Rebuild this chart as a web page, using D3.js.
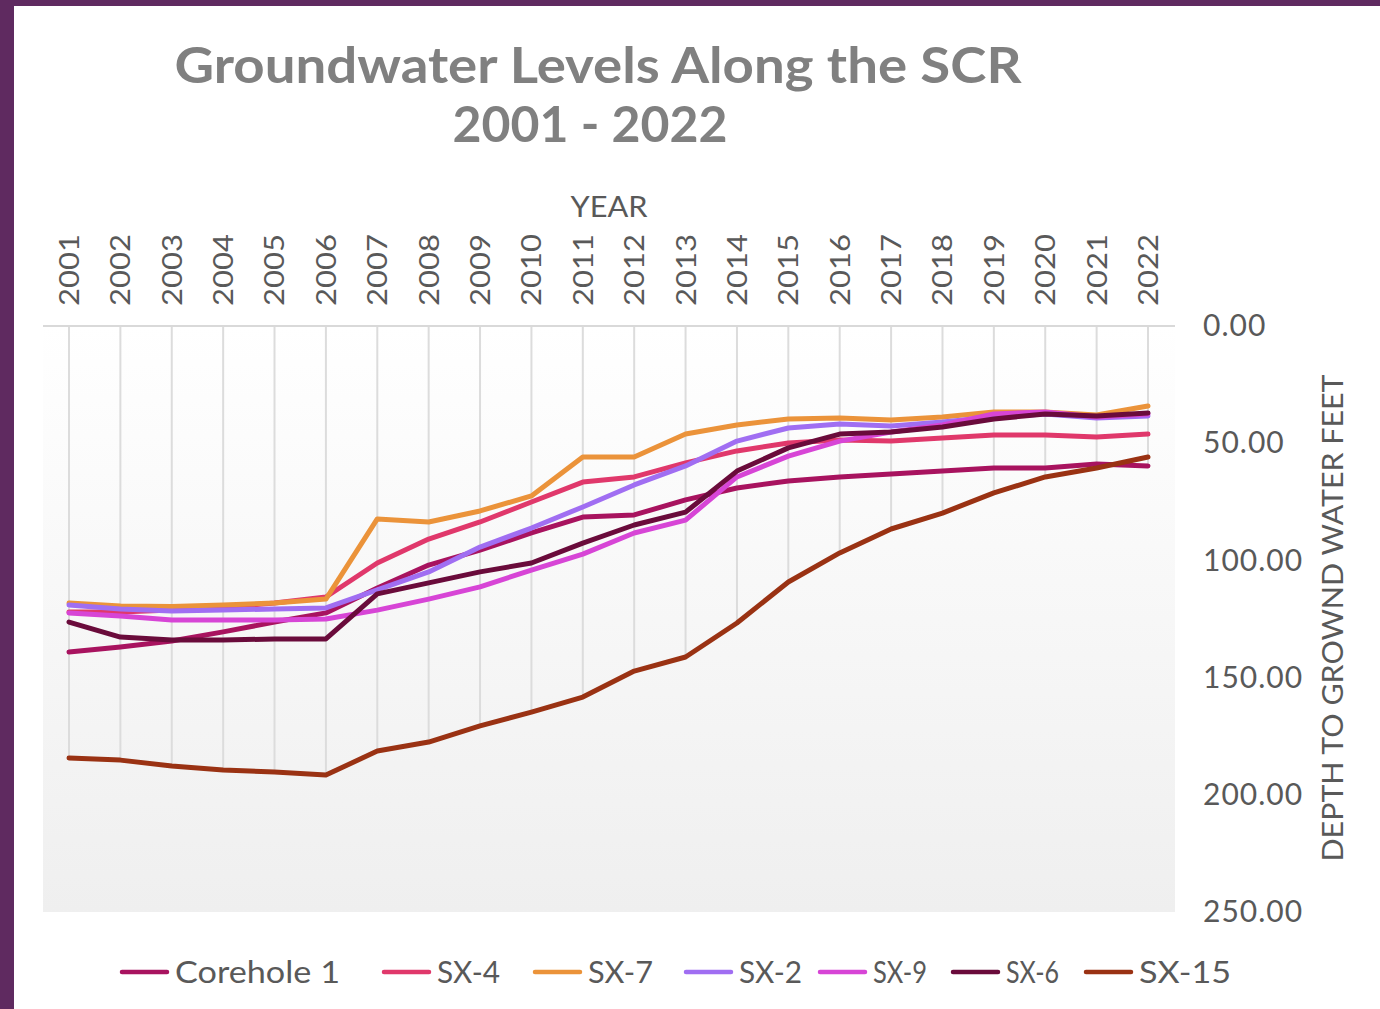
<!DOCTYPE html>
<html>
<head>
<meta charset="utf-8">
<script src="https://cdn.jsdelivr.net/npm/d3@7/dist/d3.min.js"></script>
<style>
  body { margin: 0; background: #fff; }
  svg { display: block; }
  text { font-family: "Lato", "Open Sans", sans-serif; }
</style>
</head>
<body>
<div id="chart"></div>
<script>
// years along the top axis
const years = [2001, 2002, 2003, 2004, 2005, 2006, 2007, 2008, 2009, 2010, 2011,
               2012, 2013, 2014, 2015, 2016, 2017, 2018, 2019, 2020, 2021, 2022];

// depth to groundwater (feet)
const corehole1 = [139.1, 136.9, 134.4, 130.5, 126.3, 122.4, 111.8, 102.0, 95.6, 88.3, 81.5,
                   80.6, 74.2, 69.1, 66.1, 64.4, 63.1, 61.9, 60.6, 60.6, 58.9, 59.7];
const sx4 = [122.0, 122.0, 121.2, 119.9, 118.2, 115.6, 101.1, 90.9, 83.6, 75.1, 66.6,
             64.4, 58.4, 53.3, 49.9, 48.6, 49.1, 47.8, 46.5, 46.5, 47.4, 46.1];
const sx7 = [118.2, 119.5, 119.7, 119.0, 118.2, 116.5, 82.3, 83.6, 78.9, 72.5, 55.9,
             55.9, 46.1, 42.2, 39.7, 39.2, 40.1, 38.8, 36.7, 36.7, 38.0, 34.1];
const sx2 = [119.0, 120.7, 121.6, 121.2, 120.7, 120.3, 112.6, 104.9, 94.3, 86.2, 77.2,
             67.8, 59.7, 49.1, 43.5, 41.8, 42.7, 41.0, 38.8, 37.5, 39.2, 38.4];
const sx9 = [122.4, 123.7, 125.4, 125.4, 125.4, 125.0, 121.2, 116.5, 111.3, 104.1, 97.3,
             88.3, 82.8, 64.4, 55.5, 49.1, 45.2, 42.2, 37.5, 36.7, 38.8, 37.5];
const sx6 = [126.3, 132.7, 134.0, 134.0, 133.5, 133.5, 114.3, 109.6, 104.9, 101.1, 92.6,
             84.9, 79.4, 61.9, 52.0, 46.1, 45.2, 43.1, 39.7, 37.5, 38.4, 37.1];
const sx15 = [184.3, 185.2, 187.7, 189.4, 190.3, 191.6, 181.3, 177.5, 170.6, 164.7, 158.3,
              147.2, 141.2, 126.7, 109.2, 96.8, 86.6, 79.8, 71.2, 64.4, 60.6, 55.9];

const seriesNames = ["Corehole 1", "SX-4", "SX-7", "SX-2", "SX-9", "SX-6", "SX-15"];
const seriesValues = [corehole1, sx4, sx7, sx2, sx9, sx6, sx15];
const seriesColors = ["#a8135f", "#e0386b", "#eb933a", "#a06ef2", "#d745d6", "#6a0b3b", "#9a3213"];

const yTicks = [0, 50, 100, 150, 200, 250];

const W = 1380, H = 1009;
const svg = d3.select("#chart").append("svg")
    .attr("width", W)
    .attr("height", H);

// purple frame at top and left
svg.append("rect").attr("x", 0).attr("y", 0).attr("width", W).attr("height", H).attr("fill", "#fff");
svg.append("rect").attr("x", 0).attr("y", 0).attr("width", W).attr("height", 6).attr("fill", "#5f2a60");
svg.append("rect").attr("x", 0).attr("y", 0).attr("width", 14).attr("height", H).attr("fill", "#5f2a60");

const x = d3.scalePoint()
    .domain(years)
    .range([69, 1148]);

const y = d3.scaleLinear()
    .domain([0, 250])
    .range([326, 912]);

// plot area background
const grad = svg.append("defs").append("linearGradient")
    .attr("id", "plotbg").attr("x1", 0).attr("y1", 0).attr("x2", 0).attr("y2", 1);
grad.append("stop").attr("offset", "0%").attr("stop-color", "#ffffff");
grad.append("stop").attr("offset", "100%").attr("stop-color", "#efefef");

svg.append("rect")
    .attr("x", 43).attr("y", y(0))
    .attr("width", 1175 - 43).attr("height", y(250) - y(0))
    .attr("fill", "url(#plotbg)");

// drop lines from the axis to the deepest reading each year
svg.append("g").selectAll("line")
    .data(years)
    .enter()
    .append("line")
    .attr("x1", d => x(d)).attr("x2", d => x(d))
    .attr("y1", y(0))
    .attr("y2", (d, i) => y(d3.max(seriesValues, s => s[i])))
    .attr("stroke", "#dcdcdc")
    .attr("stroke-width", 2);

// category axis line at the top
svg.append("line")
    .attr("x1", 43).attr("x2", 1175)
    .attr("y1", y(0)).attr("y2", y(0))
    .attr("stroke", "#d9d9d9")
    .attr("stroke-width", 2);

// year labels
const xAxis = svg.append("g")
    .attr("transform", `translate(0,${y(0)})`)
    .call(d3.axisTop(x).tickSize(0).tickFormat(d3.format("d")));
xAxis.select(".domain").remove();
xAxis.selectAll("text")
    .attr("transform", "rotate(-90)")
    .attr("x", 20)
    .attr("y", 0)
    .attr("dy", "0.35em")
    .attr("text-anchor", "start")
    .attr("fill", "#595959")
    .attr("font-size", 27)
    .attr("textLength", 72)
    .attr("lengthAdjust", "spacingAndGlyphs");

svg.append("text")
    .attr("x", 609).attr("y", 217)
    .attr("text-anchor", "middle")
    .attr("fill", "#595959")
    .attr("font-size", 28)
    .attr("textLength", 77)
    .attr("lengthAdjust", "spacingAndGlyphs")
    .text("YEAR");

// value axis labels on the right
const yAxis = svg.append("g")
    .attr("transform", "translate(1190,0)")
    .call(d3.axisRight(y).tickValues(yTicks).tickSize(0).tickFormat(d3.format(".2f")));
yAxis.select(".domain").remove();
yAxis.selectAll("text")
    .attr("x", 13)
    .attr("fill", "#595959")
    .attr("font-size", 30)
    .attr("letter-spacing", 1);

svg.append("text")
    .attr("transform", "translate(1343,618) rotate(-90)")
    .attr("text-anchor", "middle")
    .attr("fill", "#595959")
    .attr("font-size", 28)
    .attr("textLength", 487)
    .attr("lengthAdjust", "spacingAndGlyphs")
    .text("DEPTH TO GROWND WATER FEET");

// series lines
const line = d3.line()
    .x((d, i) => x(years[i]))
    .y(d => y(d));

svg.append("g").selectAll("path")
    .data(seriesValues)
    .enter()
    .append("path")
    .attr("d", line)
    .attr("fill", "none")
    .attr("stroke", (d, i) => seriesColors[i])
    .attr("stroke-width", 5)
    .attr("stroke-linejoin", "round")
    .attr("stroke-linecap", "round");

// title
svg.append("text")
    .attr("x", 598).attr("y", 83)
    .attr("text-anchor", "middle")
    .attr("fill", "#808080")
    .attr("font-size", 50)
    .attr("font-weight", "bold")
    .attr("textLength", 847)
    .attr("lengthAdjust", "spacingAndGlyphs")
    .text("Groundwater Levels Along the SCR");
svg.append("text")
    .attr("x", 590).attr("y", 142)
    .attr("text-anchor", "middle")
    .attr("fill", "#808080")
    .attr("font-size", 50)
    .attr("font-weight", "bold")
    .attr("textLength", 275)
    .attr("lengthAdjust", "spacingAndGlyphs")
    .text("2001 - 2022");

// legend
const legendX = [122, 384, 535, 686, 820, 953, 1086];
const legendTextW = [165, 63, 65, 63, 54, 53, 92];
const legend = svg.append("g").selectAll("g")
    .data(seriesNames)
    .enter()
    .append("g")
    .attr("transform", (d, i) => `translate(${legendX[i]},972)`);
legend.append("line")
    .attr("x1", 0).attr("x2", 45)
    .attr("stroke", (d, i) => seriesColors[i])
    .attr("stroke-width", 4.5)
    .attr("stroke-linecap", "round");
legend.append("text")
    .attr("x", 53)
    .attr("dy", "0.35em")
    .attr("fill", "#595959")
    .attr("font-size", 31)
    .attr("textLength", (d, i) => legendTextW[i])
    .attr("lengthAdjust", "spacingAndGlyphs")
    .text(d => d);
</script>
</body>
</html>
